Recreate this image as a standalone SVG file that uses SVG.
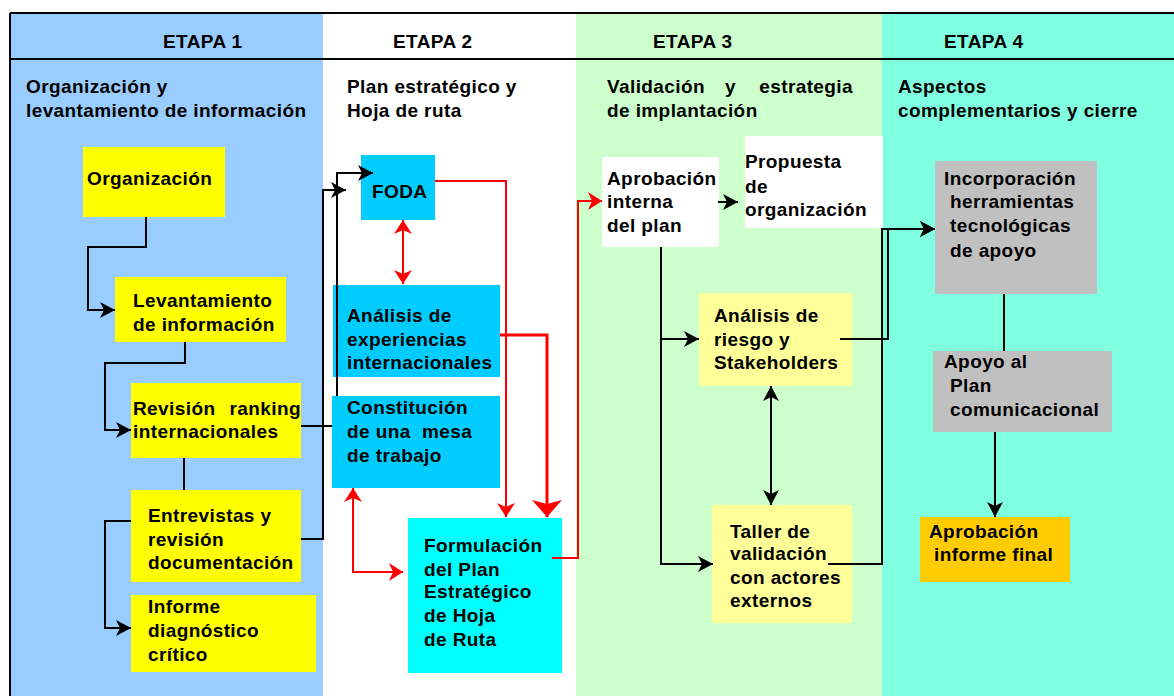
<svg xmlns="http://www.w3.org/2000/svg" width="1174" height="696" viewBox="0 0 1174 696">
<style>
.t{font-family:"Liberation Sans",Arial,sans-serif;font-weight:bold;font-size:19px;letter-spacing:0.4px;fill:#000}
.e{text-anchor:end}
.k{fill:none;stroke:#000;stroke-width:2}
.r{fill:none;stroke:#f00;stroke-width:2}
.rb{fill:none;stroke:#f00;stroke-width:3}
.frame{fill:none;stroke:#000;stroke-width:2}
</style>
<defs>
<marker id="ak" viewBox="0 0 15 16" markerWidth="15" markerHeight="16" markerUnits="userSpaceOnUse" refX="15" refY="8" orient="auto-start-reverse"><path d="M0,0 L15,8 L0,16 L4,8 z" fill="#000"/></marker>
<marker id="ar" viewBox="0 0 14 18" markerWidth="14" markerHeight="18" markerUnits="userSpaceOnUse" refX="14" refY="9" orient="auto-start-reverse"><path d="M0,0 L14,9 L0,18 L4,9 z" fill="#f00"/></marker>
<marker id="arb" viewBox="0 0 17 30" markerWidth="17" markerHeight="30" markerUnits="userSpaceOnUse" refX="17" refY="15" orient="auto"><path d="M0,0 L17,15 L0,30 L4,15 z" fill="#f00"/></marker>
</defs>
<rect x="0" y="0" width="1174" height="696" fill="#fff"/>
<g id="columns">
<rect x="10" y="13" width="313" height="683" fill="#99CCFF"/>
<rect x="323" y="13" width="253" height="683" fill="#FFFFFF"/>
<rect x="576" y="13" width="306" height="683" fill="#CCFFCC"/>
<rect x="882" y="13" width="292" height="683" fill="#7FFFDF"/>
<path class="frame" d="M10,13 H1174 M10,59 H1174 M10,13 V696"/>
</g>
<g id="headers">
<text class="t" x="163" y="48">ETAPA 1</text>
<text class="t" x="393" y="48">ETAPA 2</text>
<text class="t" x="653" y="48">ETAPA 3</text>
<text class="t" x="944" y="48">ETAPA 4</text>
<text class="t" x="26" y="93">Organización y</text>
<text class="t" x="26" y="117">levantamiento de información</text>
<text class="t" x="347" y="93">Plan estratégico y</text>
<text class="t" x="347" y="117">Hoja de ruta</text>
<text class="t" x="607" y="93">Validación</text>
<text class="t" x="725" y="93">y</text>
<text class="t e" x="853" y="93">estrategia</text>
<text class="t" x="607" y="117">de implantación</text>
<text class="t" x="898" y="93">Aspectos</text>
<text class="t" x="898" y="117">complementarios y cierre</text>
</g>
<g id="n-organizacion"><rect x="83" y="147" width="142" height="70" fill="#FFFF00"/><text class="t" x="87" y="185">Organización</text></g>
<g id="n-levantamiento"><rect x="115" y="277" width="171" height="65" fill="#FFFF00"/><text class="t" x="133" y="307">Levantamiento</text><text class="t" x="133" y="331">de información</text></g>
<g id="n-revision"><rect x="131" y="383" width="170" height="75" fill="#FFFF00"/><text class="t" x="133" y="415">Revisión</text><text class="t e" x="301" y="415">ranking</text><text class="t" x="133" y="438">internacionales</text></g>
<g id="n-entrevistas"><rect x="131" y="490" width="170" height="92" fill="#FFFF00"/><text class="t" x="148" y="522">Entrevistas y</text><text class="t" x="148" y="546">revisión</text><text class="t" x="148" y="569">documentación</text></g>
<g id="n-informe"><rect x="131" y="595" width="185" height="77" fill="#FFFF00"/><text class="t" x="148" y="613">Informe</text><text class="t" x="148" y="637">diagnóstico</text><text class="t" x="148" y="661">crítico</text></g>
<g id="n-foda"><rect x="361" y="155" width="74" height="65" fill="#00CCFF"/><text class="t" x="372" y="198">FODA</text></g>
<g id="n-analisis"><rect x="333" y="285" width="167" height="92" fill="#00CCFF"/><text class="t" x="347" y="322">Análisis de</text><text class="t" x="347" y="346">experiencias</text><text class="t" x="347" y="369">internacionales</text></g>
<g id="n-constitucion"><rect x="332" y="396" width="168" height="92" fill="#00CCFF"/><text class="t" x="347" y="414">Constitución</text><text class="t" x="347" y="438" xml:space="preserve">de una  mesa</text><text class="t" x="347" y="462">de trabajo</text></g>
<g id="n-formulacion"><rect x="408" y="518" width="154" height="155" fill="#00FFFF"/><text class="t" x="424" y="552">Formulación</text><text class="t" x="424" y="576">del Plan</text><text class="t" x="424" y="598">Estratégico</text><text class="t" x="424" y="622">de Hoja</text><text class="t" x="424" y="646">de Ruta</text></g>
<g id="n-aprobacion"><rect x="602" y="157" width="117" height="90" fill="#FFFFFF"/><text class="t" x="607" y="185">Aprobación</text><text class="t" x="607" y="208">interna</text><text class="t" x="607" y="232">del plan</text></g>
<g id="n-propuesta"><rect x="745" y="136" width="138" height="92" fill="#FFFFFF"/><text class="t" x="745" y="168">Propuesta</text><text class="t" x="745" y="193">de</text><text class="t" x="745" y="216">organización</text></g>
<g id="n-riesgo"><rect x="699" y="293" width="153" height="93" fill="#FFFF99"/><text class="t" x="714" y="322">Análisis de</text><text class="t" x="714" y="346">riesgo y</text><text class="t" x="714" y="369">Stakeholders</text></g>
<g id="n-taller"><rect x="712" y="505" width="140" height="118" fill="#FFFF99"/><text class="t" x="730" y="538">Taller de</text><text class="t" x="730" y="560">validación</text><text class="t" x="730" y="584">con actores</text><text class="t" x="730" y="607">externos</text></g>
<g id="n-incorporacion"><rect x="935" y="161" width="162" height="133" fill="#C0C0C0"/><text class="t" x="944" y="185">Incorporación</text><text class="t" x="950" y="208">herramientas</text><text class="t" x="950" y="232">tecnológicas</text><text class="t" x="950" y="257">de apoyo</text></g>
<g id="n-apoyo"><rect x="933" y="351" width="179" height="81" fill="#C0C0C0"/><text class="t" x="944" y="368">Apoyo al</text><text class="t" x="950" y="392">Plan</text><text class="t" x="950" y="416">comunicacional</text></g>
<g id="n-final"><rect x="920" y="517" width="150" height="65" fill="#FFCC00"/><text class="t" x="929" y="538">Aprobación</text><text class="t" x="934" y="561">informe final</text></g>
<g id="connectors">
<path class="k" d="M146,217 V247 H88 V310 H115" marker-end="url(#ak)"/>
<path class="k" d="M185,342 V363 H105 V430 H131" marker-end="url(#ak)"/>
<path class="k" d="M184,458 V490"/>
<path class="k" d="M131,521 H105 V628 H131" marker-end="url(#ak)"/>
<path class="k" d="M301,426 H332 M337,396 V173 H373" marker-end="url(#ak)"/>
<path class="k" d="M301,539 H323 V190 H346" marker-end="url(#ak)"/>
<path class="r" d="M435,181 H506 V517" marker-end="url(#ar)"/>
<path class="r" d="M403,220 V284" marker-start="url(#ar)" marker-end="url(#ar)"/>
<path class="rb" d="M500,335 H547 V517" marker-end="url(#arb)"/>
<path class="r" d="M353,488 V572 H403" marker-start="url(#ar)" marker-end="url(#ar)"/>
<path class="r" d="M552,558 H578 V201 H602" marker-end="url(#ar)"/>
<path class="k" d="M718,202 H738" marker-end="url(#ak)"/>
<path class="k" d="M661,247 V564 H713" marker-end="url(#ak)"/>
<path class="k" d="M661,339 H699" marker-end="url(#ak)"/>
<path class="k" d="M771,386 V505" marker-start="url(#ak)" marker-end="url(#ak)"/>
<path class="k" d="M840,339 H888 V229 H935" marker-end="url(#ak)"/>
<path class="k" d="M828,564 H882 V229 H935" marker-end="url(#ak)"/>
<path class="k" d="M1004,294 V351"/>
<path class="k" d="M995,432 V517" marker-end="url(#ak)"/>
</g>
</svg>
